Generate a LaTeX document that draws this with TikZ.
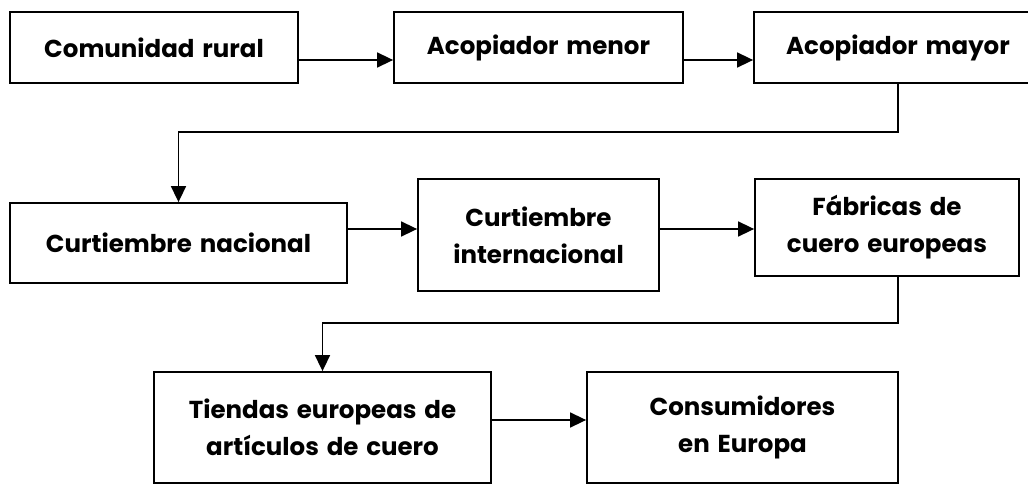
\documentclass[tikz,border=0pt]{standalone}
\usepackage{fontspec}
\setmainfont{Poppins}[WordSpace=1.5]
\usetikzlibrary{arrows.meta,calc}
\begin{document}
\begin{tikzpicture}[x=1pt,y=-1pt,
  box/.style={draw=black,line width=1.8pt,inner sep=0pt,align=center,
    font=\fontsize{24.5}{37}\selectfont\bfseries},
  arr/.style={line width=1.6pt,-{Triangle[length=16pt,width=15pt]}},
  link/.style={line width=1.6pt}]
\useasboundingbox (0,0) rectangle (1028,484);
\node[box,minimum width=288pt,minimum height=71pt] (b1) at (154,47.5) {Comunidad rural};
\node[box,minimum width=289pt,minimum height=71pt] (b2) at (538.5,47.5) {Acopiador menor};
\node[box,minimum width=288pt,minimum height=71pt] (b3) at (898,47.5) {Acopiador mayor};
\node[box,minimum width=337pt,minimum height=80pt] (b4) at (178.5,243) {Curtiembre nacional};
\node[box,minimum width=241pt,minimum height=112pt] (b5) at (538.5,235) {Curtiembre\\internacional};
\node[box,minimum width=264pt,minimum height=97pt] (b6) at (887,227.5) {Fábricas de\\cuero europeas};
\node[box,minimum width=337pt,minimum height=111pt] (b7) at (322.5,427.5) {Tiendas europeas de\\artículos de cuero};
\node[box,minimum width=311pt,minimum height=111pt] (b8) at (742.5,427.5) {Consumidores\\en Europa};
\coordinate (r1) at (0,60);
\coordinate (r2) at (0,229);
\coordinate (r3) at (0,420);
\coordinate (k1) at (898,132);
\coordinate (k2) at (898,323);
\draw[arr] (b1.east |- r1) -- (b2.west |- r1);
\draw[arr] (b2.east |- r1) -- (b3.west |- r1);
\draw[arr] (b3.south) -- (k1) -| (b4.north);
\draw[arr] (b4.east |- r2) -- (b5.west |- r2);
\draw[arr] (b5.east |- r2) -- (b6.west |- r2);
\draw[arr] (b6.south -| k2) -- (k2) -| (b7.north);
\draw[arr] (b7.east |- r3) -- (b8.west |- r3);
\end{tikzpicture}
\end{document}
